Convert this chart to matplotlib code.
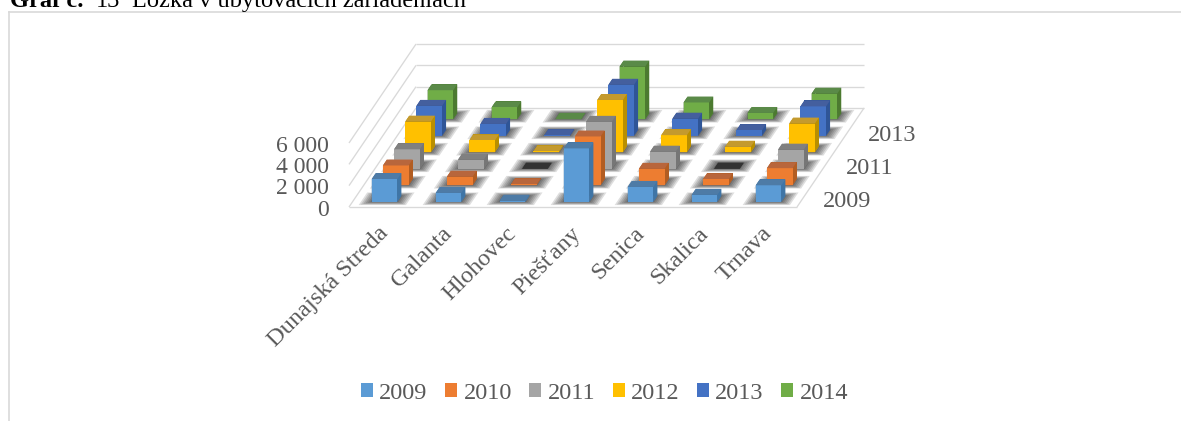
import numpy as np
import matplotlib
matplotlib.use('Agg')
import matplotlib.pyplot as plt
from matplotlib.patches import Patch
from mpl_toolkits.mplot3d import proj3d
from mpl_toolkits.mplot3d.art3d import Poly3DCollection, Line3DCollection

plt.rcParams['font.family'] = ['Liberation Serif', 'DejaVu Serif']

# === Data ===
districts = ['Dunajská Streda', 'Galanta', 'Hlohovec', 'Piešťany', 'Senica', 'Skalica', 'Trnava']
years = ['2009', '2010', '2011', '2012', '2013', '2014']
beds_2009 = [2130, 830, 100, 5000, 1390, 650, 1540]
beds_2010 = [1850, 800, 80, 4570, 1540, 550, 1600]
beds_2011 = [1820, 860, 0, 4400, 1600, 0, 1790]
beds_2012 = [2870, 1110, 80, 4900, 1600, 520, 2690]
beds_2013 = [2800, 1110, 60, 4780, 1600, 520, 2750]
beds_2014 = [2720, 1110, 40, 4940, 1570, 590, 2400]
beds = [beds_2009, beds_2010, beds_2011, beds_2012, beds_2013, beds_2014]
z_ticks = [0, 2000, 4000, 6000]
z_labels = ['0', '2 000', '4 000', '6 000']
y_labels = ['2009', '2011', '2013']

# front, top, side colour of each series
front = ['#5B9BD5', '#ED7D31', '#A5A5A5', '#FFC000', '#4472C4', '#70AD47']
top = ['#4E7BA6', '#B8663C', '#808080', '#C49A2E', '#445F9E', '#5A8A48']
side = ['#3F75A6', '#B25D22', '#767676', '#B98F00', '#2F5597', '#4C7A30']
ZERO_TOP = '#333333'
GRID = '#D9D9D9'
TEXT = '#595959'

W, H = 1181, 421
nx, ny = len(districts), len(years)
zmax = z_ticks[-1]

fig = plt.figure(figsize=(W / 100, H / 100), dpi=100)
# 3d axes are always square, so make it as wide as the figure
ax = fig.add_axes([0, (H - W) / 2 / H, 1, W / H], projection='3d')
ax.set_axis_off()
ax.set_xticks([])
ax.set_yticks([])
ax.set_zticks([])
ax.computed_zorder = False
ax.viewLim.intervalx = (0, W)
ax.viewLim.intervaly = (0, W)

# Excel draws this one as an oblique projection, not a real perspective
cell_w = 64.0
row_dx, row_dy = 11.17, 16.5
px_z = 64.0 / zmax
left, base = 349.0, (W - H) / 2 + H - 207
M = np.array([
    [cell_w, row_dx, 0, left],
    [0, row_dy, px_z, base],
    [-0.3, 1, -0.0003, 0],
    [0, 0, 0, 1.0],
])
ax.get_proj = lambda: M


def label(x, y, z, s, **kw):
    # plain text at the projected spot, Text3D would reset the rotation
    sx, sy, _ = proj3d.proj_transform(x, y, z, M)
    ax.text2D(sx, sy, s, color=TEXT, **kw)


# walls and floor
segs = []
for z in z_ticks:
    segs.append([(0, 0, z), (0, ny, z)])
    segs.append([(0, ny, z), (nx, ny, z)])
segs.append([(0, 0, 0), (nx, 0, 0)])
segs.append([(nx, 0, 0), (nx, ny, 0)])
ax.add_collection3d(Line3DCollection(segs, colors=GRID, linewidths=0.95, zorder=0))

bar_w, bar_d = 0.4, 0.36

# soft shadows on the floor
for j in range(ny):
    for i in range(nx):
        x0, y0 = i + 0.5 - bar_w / 2, j + 0.5 - bar_d / 2
        for grow in np.linspace(0.02, 0.17, 6):
            gy = grow * 1.2
            poly = [[(x0 - grow, y0 - gy, 0), (x0 + bar_w + grow, y0 - gy, 0),
                     (x0 + bar_w + grow, y0 + bar_d + gy, 0), (x0 - grow, y0 + bar_d + gy, 0)]]
            ax.add_collection3d(Poly3DCollection(poly, facecolors=(0, 0, 0, 0.13),
                                                 edgecolors='none', zorder=1))

# bars, back rows first
order = 2
for j in range(ny - 1, -1, -1):
    for i in range(nx):
        val = beds[j][i]
        t = ZERO_TOP if val == 0 else top[j]
        # faces: -z, +z, -y, +y, -x, +x
        colors = [t, t, front[j], side[j], side[j], side[j]]
        ax.bar3d(i + 0.5 - bar_w / 2, j + 0.5 - bar_d / 2, 0, bar_w, bar_d, val,
                 color=colors, shade=False, edgecolor='none', zorder=order)
        order += 1

# labels
for z, lab in zip(z_ticks, z_labels):
    label(-0.31, 0, z - 300, lab, ha='right', va='center', fontsize=17)
for k, lab in enumerate(y_labels):
    label(nx + 0.32, 2 * k + 0.5, -250, lab, ha='left', va='center', fontsize=17.5)
for i, lab in enumerate(districts):
    label(i + 0.45, 0, -1500, lab, rotation=45, ha='right', va='top',
          rotation_mode='anchor', fontsize=17.5)

# chart frame, cut by the page edge
fig.add_artist(plt.Line2D([8.5 / W, 8.5 / W], [0, 1 - 11.5 / H], color=GRID, lw=1.2))
fig.add_artist(plt.Line2D([8.5 / W, 1], [1 - 11.5 / H, 1 - 11.5 / H], color=GRID, lw=1.2))

# heading above the chart
fig.text(10 / W, 1 - 7 / H, 'Graf č.', fontsize=17.6, fontweight='bold', color='black', va='baseline')
fig.text(96 / W, 1 - 7 / H, '13', fontsize=17.6, color='black', va='baseline')
fig.text(132 / W, 1 - 7 / H, 'Lôžka v ubytovacích zariadeniach', fontsize=17.6, color='black', va='baseline')

handles = [Patch(facecolor=c, label=y) for c, y in zip(front, years)]
fig.legend(handles=handles, loc='center', bbox_to_anchor=(604.5 / W, 1 - 393.5 / H), ncol=6, frameon=False,
           fontsize=17.5, labelcolor=TEXT, handlelength=0.5, handleheight=0.5, handletextpad=0.25,
           columnspacing=0.72)

fig.savefig('out.png', dpi=100)
